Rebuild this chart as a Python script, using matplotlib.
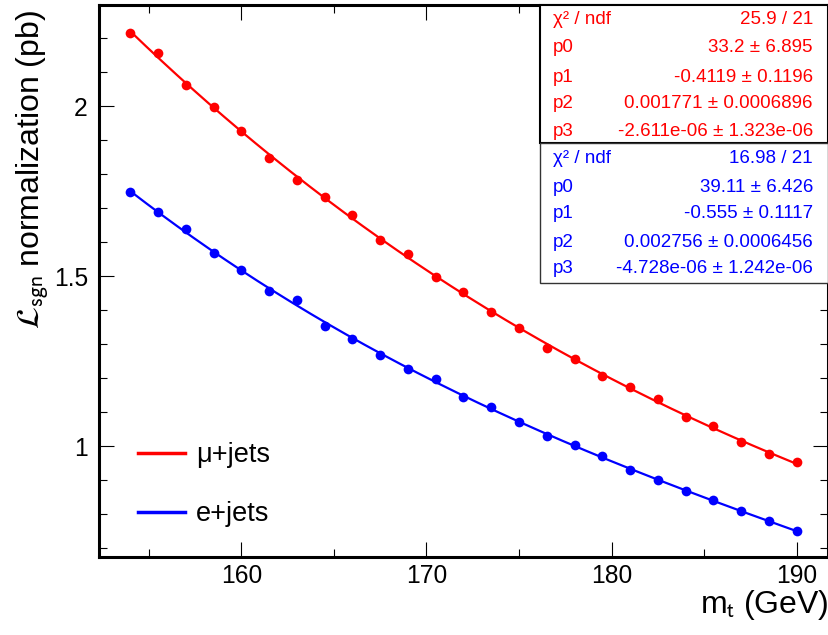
import numpy as np
import matplotlib
matplotlib.use("Agg")
import matplotlib.pyplot as plt
from matplotlib.patches import Rectangle
from matplotlib.ticker import MultipleLocator

plt.rcParams['font.family'] = ['Liberation Sans', 'DejaVu Sans']
plt.rcParams['mathtext.fontset'] = 'stixsans'

# ---- data ----
mt = [154, 155.5, 157, 158.5, 160, 161.5, 163, 164.5, 166, 167.5, 169, 170.5, 172,
      173.5, 175, 176.5, 178, 179.5, 181, 182.5, 184, 185.5, 187, 188.5, 190]
mu_vals = [2.214, 2.156, 2.061, 1.997, 1.927, 1.847, 1.782, 1.734, 1.679, 1.607, 1.565,
           1.497, 1.453, 1.393, 1.348, 1.290, 1.257, 1.206, 1.173, 1.139, 1.087, 1.058,
           1.013, 0.976, 0.952]
e_vals = [1.746, 1.687, 1.637, 1.568, 1.519, 1.457, 1.429, 1.353, 1.315, 1.268, 1.228,
          1.198, 1.145, 1.116, 1.071, 1.030, 1.002, 0.970, 0.930, 0.901, 0.869, 0.842,
          0.809, 0.779, 0.750]
mu_stats = [("χ² / ndf", "25.9 / 21"), ("p0", "33.2 ± 6.895"), ("p1", "-0.4119 ± 0.1196"),
            ("p2", "0.001771 ± 0.0006896"), ("p3", "-2.611e-06 ± 1.323e-06")]
e_stats = [("χ² / ndf", "16.98 / 21"), ("p0", "39.11 ± 6.426"), ("p1", "-0.555 ± 0.1117"),
           ("p2", "0.002756 ± 0.0006456"), ("p3", "-4.728e-06 ± 1.242e-06")]
labels = ["μ+jets", "e+jets"]

W, H = 829, 635
fig = plt.figure(figsize=(W / 100, H / 100), dpi=100)
ax = fig.add_axes([99 / W, 78 / H, (828 - 99) / W, (557 - 4.7) / H])

# cubic (pol3) fit to the points, as in the reference
x = np.asarray(mt, dtype=float)
xc = x.mean()
xf = np.linspace(x[0], x[-1], 300)
def fitcurve(vals):
    c = np.polyfit(x - xc, np.asarray(vals), 3)
    return np.polyval(c, xf - xc)

red, blue = '#ff0000', '#0000ff'
l1, = ax.plot(xf, fitcurve(mu_vals), color=red, lw=1.6)
l2, = ax.plot(xf, fitcurve(e_vals), color=blue, lw=1.6)
ax.plot(mt, mu_vals, 'o', color=red, ms=7, mec='none')
ax.plot(mt, e_vals, 'o', color=blue, ms=7, mec='none')

ax.set_xlim(152.3, 191.7)
ax.set_ylim(0.674, 2.298)
ax.xaxis.set_major_locator(MultipleLocator(10))
ax.xaxis.set_minor_locator(MultipleLocator(5))
ax.yaxis.set_minor_locator(MultipleLocator(0.1))
ax.set_yticks([1, 1.5, 2])
ax.set_yticklabels(["1", "1.5", "2"])
ax.tick_params(which='both', direction='in', top=True, right=True, width=0.8, color='black')
ax.tick_params(which='major', length=11)
ax.tick_params(which='minor', length=5.5)
ax.tick_params(axis='x', labelsize=17.7, pad=5)
ax.tick_params(axis='y', labelsize=17.7, pad=8)
for s in ax.spines.values():
    s.set_linewidth(2.2)

fig.text(828 / W, 1 - 613 / H, "m$_{\\rm t}$ (GeV)", ha='right', va='baseline', fontsize=23)
fig.text(33 / W, 1 - 10 / H, "$\\mathcal{L}_{\\rm sgn}$ normalization (pb)", rotation=90,
         ha='center', va='top', fontsize=23)

# stats boxes
fig.patches.append(Rectangle((540 / W, 1 - 143 / H), (828 - 540) / W, (143 - 4.7) / H,
                             transform=fig.transFigure, fill=True, facecolor='white',
                             edgecolor='black', lw=1.5, zorder=5))
fig.patches.append(Rectangle((540 / W, 1 - 283 / H), (828 - 540) / W, (283 - 143) / H,
                             transform=fig.transFigure, fill=True, facecolor='white',
                             edgecolor='#333333', lw=1.0, zorder=5))
for rows, ys, c in [(mu_stats, [20, 48, 77, 103, 131], red),
                    (e_stats, [159, 187, 214, 242, 268], blue)]:
    for (k, v), y in zip(rows, ys):
        fig.text(553 / W, 1 - y / H, k, color=c, fontsize=13.5, ha='left', va='center', zorder=6)
        fig.text(813 / W, 1 - y / H, v, color=c, fontsize=13.5, ha='right', va='center', zorder=6)

leg = ax.legend([l1, l2], labels, loc='upper left', bbox_to_anchor=(138 / W, 1 - 442 / H),
                bbox_transform=fig.transFigure, frameon=False, fontsize=19.5,
                handlelength=1.75, handletextpad=0.4, labelspacing=1.22,
                borderpad=0, borderaxespad=0)
for h in leg.get_lines():
    h.set_linewidth(2.5)

fig.savefig("out.png", dpi=100)
